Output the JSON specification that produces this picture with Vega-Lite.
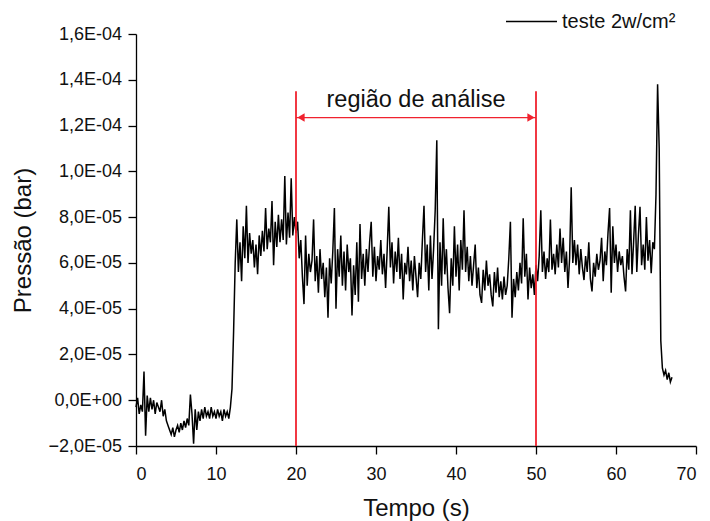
{
  "$schema": "https://vega.github.io/schema/vega-lite/v6.json",
  "width": 560,
  "height": 412,
  "autosize": {"type": "none"},
  "padding": {"left": 136, "top": 34, "right": 14, "bottom": 75},
  "background": "white",
  "config": {
    "view": {"stroke": null},
    "font": "Liberation Sans",
    "axis": {
      "domainColor": "#000000",
      "domainWidth": 1.3,
      "tickColor": "#000000",
      "tickWidth": 1.3,
      "grid": false,
      "labelColor": "#111111",
      "labelFont": "Liberation Sans",
      "labelFontSize": 18,
      "titleFont": "Liberation Sans",
      "titleFontSize": 24,
      "titleFontWeight": "normal",
      "titleColor": "#111111"
    }
  },
  "datasets": {
    "trace": [
      {"t":0,"p":-0.3e-5},{"t":0.2,"p":0.1e-5},{"t":0.4,"p":-0.6e-5},{"t":0.6,"p":-0.2e-5},{"t":0.8,"p":-0.5e-5},
      {"t":1.0,"p":1.25e-5},{"t":1.2,"p":-1.55e-5},{"t":1.4,"p":0.2e-5},{"t":1.6,"p":-0.5e-5},{"t":1.8,"p":0.1e-5},
      {"t":2.0,"p":-0.4e-5},{"t":2.2,"p":0.0},{"t":2.4,"p":-0.6e-5},{"t":2.6,"p":-0.1e-5},{"t":2.8,"p":-0.3e-5},
      {"t":3.0,"p":-0.5e-5},{"t":3.2,"p":0.0},{"t":3.4,"p":-0.7e-5},{"t":3.6,"p":-0.4e-5},{"t":3.8,"p":-0.9e-5},
      {"t":4.0,"p":-1.1e-5},{"t":4.2,"p":-1.3e-5},{"t":4.4,"p":-1.5e-5},{"t":4.6,"p":-1.2e-5},{"t":4.8,"p":-1.6e-5},
      {"t":5.0,"p":-1.3e-5},{"t":5.2,"p":-1.1e-5},{"t":5.4,"p":-1.4e-5},{"t":5.6,"p":-1.0e-5},{"t":5.8,"p":-1.3e-5},
      {"t":6.0,"p":-0.9e-5},{"t":6.2,"p":-1.2e-5},{"t":6.4,"p":-0.8e-5},{"t":6.6,"p":-1.1e-5},{"t":6.8,"p":0.25e-5},
      {"t":7.0,"p":-0.6e-5},{"t":7.2,"p":-1.9e-5},{"t":7.4,"p":-0.4e-5},{"t":7.6,"p":-1.3e-5},{"t":7.8,"p":-0.5e-5},
      {"t":8.0,"p":-0.9e-5},{"t":8.2,"p":-0.4e-5},{"t":8.4,"p":-0.8e-5},{"t":8.6,"p":-0.3e-5},{"t":8.8,"p":-0.7e-5},
      {"t":9.0,"p":-0.5e-5},{"t":9.2,"p":-0.8e-5},{"t":9.4,"p":-0.3e-5},{"t":9.6,"p":-0.7e-5},{"t":9.8,"p":-0.5e-5},
      {"t":10.0,"p":-0.8e-5},{"t":10.2,"p":-0.4e-5},{"t":10.4,"p":-0.7e-5},{"t":10.6,"p":-0.5e-5},{"t":10.8,"p":-0.9e-5},
      {"t":11.0,"p":-0.4e-5},{"t":11.2,"p":-0.7e-5},{"t":11.4,"p":-0.5e-5},{"t":11.6,"p":-0.8e-5},{"t":11.8,"p":-0.3e-5},
      {"t":12.0,"p":0.5e-5},{"t":12.2,"p":3.0e-5},{"t":12.4,"p":6.0e-5},{"t":12.6,"p":7.9e-5},{"t":12.8,"p":5.6e-5},
      {"t":13.0,"p":6.9e-5},{"t":13.2,"p":5.2e-5},{"t":13.4,"p":7.6e-5},{"t":13.6,"p":6.2e-5},{"t":13.8,"p":8.5e-5},
      {"t":14.0,"p":6.0e-5},{"t":14.2,"p":7.3e-5},{"t":14.4,"p":6.4e-5},{"t":14.6,"p":7.0e-5},{"t":14.8,"p":5.8e-5},
      {"t":15.0,"p":6.8e-5},{"t":15.2,"p":5.5e-5},{"t":15.4,"p":7.2e-5},{"t":15.6,"p":6.3e-5},{"t":15.8,"p":7.4e-5},
      {"t":16.0,"p":6.5e-5},{"t":16.2,"p":8.4e-5},{"t":16.4,"p":6.6e-5},{"t":16.6,"p":7.5e-5},{"t":16.8,"p":6.9e-5},
      {"t":17.0,"p":8.7e-5},{"t":17.2,"p":5.9e-5},{"t":17.4,"p":7.8e-5},{"t":17.6,"p":6.7e-5},{"t":17.8,"p":8.1e-5},
      {"t":18.0,"p":6.9e-5},{"t":18.2,"p":7.9e-5},{"t":18.4,"p":7.0e-5},{"t":18.6,"p":9.8e-5},{"t":18.8,"p":6.8e-5},
      {"t":19.0,"p":8.2e-5},{"t":19.2,"p":7.1e-5},{"t":19.4,"p":9.7e-5},{"t":19.6,"p":7.2e-5},{"t":19.8,"p":8.0e-5},
      {"t":20.0,"p":7.3e-5},{"t":20.2,"p":7.8e-5},{"t":20.4,"p":6.2e-5},{"t":20.6,"p":7.0e-5},{"t":20.8,"p":5.4e-5},
      {"t":21.0,"p":4.2e-5},{"t":21.2,"p":7.2e-5},{"t":21.4,"p":5.0e-5},{"t":21.6,"p":6.4e-5},{"t":21.8,"p":5.6e-5},
      {"t":22.0,"p":6.1e-5},{"t":22.2,"p":7.9e-5},{"t":22.4,"p":5.2e-5},{"t":22.6,"p":6.3e-5},{"t":22.8,"p":4.7e-5},
      {"t":23.0,"p":6.6e-5},{"t":23.2,"p":5.3e-5},{"t":23.4,"p":6.0e-5},{"t":23.6,"p":4.5e-5},{"t":23.8,"p":5.8e-5},
      {"t":24.0,"p":3.6e-5},{"t":24.2,"p":6.2e-5},{"t":24.4,"p":5.1e-5},{"t":24.6,"p":6.5e-5},{"t":24.8,"p":8.4e-5},
      {"t":25.0,"p":4.0e-5},{"t":25.2,"p":6.6e-5},{"t":25.4,"p":5.4e-5},{"t":25.6,"p":7.2e-5},{"t":25.8,"p":5.0e-5},
      {"t":26.0,"p":6.5e-5},{"t":26.2,"p":4.8e-5},{"t":26.4,"p":6.8e-5},{"t":26.6,"p":5.6e-5},{"t":26.8,"p":6.2e-5},
      {"t":27.0,"p":3.7e-5},{"t":27.2,"p":5.9e-5},{"t":27.4,"p":4.6e-5},{"t":27.6,"p":6.9e-5},{"t":27.8,"p":4.3e-5},
      {"t":28.0,"p":7.7e-5},{"t":28.2,"p":5.3e-5},{"t":28.4,"p":6.4e-5},{"t":28.6,"p":5.0e-5},{"t":28.8,"p":6.6e-5},
      {"t":29.0,"p":5.6e-5},{"t":29.2,"p":6.9e-5},{"t":29.4,"p":7.8e-5},{"t":29.6,"p":5.4e-5},{"t":29.8,"p":6.7e-5},
      {"t":30.0,"p":5.2e-5},{"t":30.2,"p":6.3e-5},{"t":30.4,"p":5.7e-5},{"t":30.6,"p":7.0e-5},{"t":30.8,"p":5.5e-5},
      {"t":31.0,"p":6.4e-5},{"t":31.2,"p":4.9e-5},{"t":31.4,"p":6.6e-5},{"t":31.6,"p":8.45e-5},{"t":31.8,"p":5.8e-5},
      {"t":32.0,"p":6.9e-5},{"t":32.2,"p":5.1e-5},{"t":32.4,"p":6.5e-5},{"t":32.6,"p":5.6e-5},{"t":32.8,"p":7.1e-5},
      {"t":33.0,"p":5.3e-5},{"t":33.2,"p":6.4e-5},{"t":33.4,"p":4.4e-5},{"t":33.6,"p":6.0e-5},{"t":33.8,"p":5.5e-5},
      {"t":34.0,"p":6.7e-5},{"t":34.2,"p":5.2e-5},{"t":34.4,"p":6.1e-5},{"t":34.6,"p":4.8e-5},{"t":34.8,"p":6.3e-5},
      {"t":35.0,"p":5.4e-5},{"t":35.2,"p":4.5e-5},{"t":35.4,"p":6.0e-5},{"t":35.6,"p":5.3e-5},{"t":35.8,"p":7.0e-5},
      {"t":36.0,"p":8.5e-5},{"t":36.2,"p":5.6e-5},{"t":36.4,"p":6.8e-5},{"t":36.6,"p":4.8e-5},{"t":36.8,"p":7.2e-5},
      {"t":37.0,"p":5.3e-5},{"t":37.2,"p":6.6e-5},{"t":37.4,"p":8.3e-5},{"t":37.6,"p":11.36e-5},{"t":37.8,"p":3.1e-5},
      {"t":38.0,"p":6.9e-5},{"t":38.2,"p":5.0e-5},{"t":38.4,"p":7.95e-5},{"t":38.6,"p":5.5e-5},{"t":38.8,"p":6.6e-5},
      {"t":39.0,"p":4.9e-5},{"t":39.2,"p":3.8e-5},{"t":39.4,"p":6.2e-5},{"t":39.6,"p":5.0e-5},{"t":39.8,"p":7.6e-5},
      {"t":40.0,"p":5.4e-5},{"t":40.2,"p":6.8e-5},{"t":40.4,"p":4.8e-5},{"t":40.6,"p":7.0e-5},{"t":40.8,"p":5.7e-5},
      {"t":41.0,"p":8.3e-5},{"t":41.2,"p":5.6e-5},{"t":41.4,"p":6.7e-5},{"t":41.6,"p":5.2e-5},{"t":41.8,"p":6.3e-5},
      {"t":42.0,"p":5.0e-5},{"t":42.2,"p":5.9e-5},{"t":42.4,"p":6.8e-5},{"t":42.6,"p":4.9e-5},{"t":42.8,"p":5.8e-5},
      {"t":43.0,"p":4.6e-5},{"t":43.2,"p":4.25e-5},{"t":43.4,"p":5.7e-5},{"t":43.6,"p":4.8e-5},{"t":43.8,"p":6.1e-5},
      {"t":44.0,"p":5.0e-5},{"t":44.2,"p":5.5e-5},{"t":44.4,"p":4.6e-5},{"t":44.6,"p":4.1e-5},{"t":44.8,"p":5.6e-5},
      {"t":45.0,"p":4.7e-5},{"t":45.2,"p":5.8e-5},{"t":45.4,"p":4.5e-5},{"t":45.6,"p":5.2e-5},{"t":45.8,"p":4.4e-5},
      {"t":46.0,"p":5.4e-5},{"t":46.2,"p":4.6e-5},{"t":46.4,"p":5.0e-5},{"t":46.6,"p":6.2e-5},{"t":46.8,"p":7.8e-5},
      {"t":47.0,"p":3.6e-5},{"t":47.2,"p":5.3e-5},{"t":47.4,"p":4.5e-5},{"t":47.6,"p":5.6e-5},{"t":47.8,"p":4.8e-5},
      {"t":48.0,"p":6.0e-5},{"t":48.2,"p":5.1e-5},{"t":48.4,"p":7.95e-5},{"t":48.6,"p":5.4e-5},{"t":48.8,"p":6.4e-5},
      {"t":49.0,"p":4.4e-5},{"t":49.2,"p":5.8e-5},{"t":49.4,"p":4.9e-5},{"t":49.6,"p":5.5e-5},{"t":49.8,"p":4.6e-5},
      {"t":50.0,"p":5.9e-5},{"t":50.2,"p":5.2e-5},{"t":50.4,"p":6.3e-5},{"t":50.6,"p":8.3e-5},{"t":50.8,"p":5.6e-5},
      {"t":51.0,"p":6.5e-5},{"t":51.2,"p":5.3e-5},{"t":51.4,"p":6.2e-5},{"t":51.6,"p":5.6e-5},{"t":51.8,"p":7.9e-5},
      {"t":52.0,"p":5.7e-5},{"t":52.2,"p":6.4e-5},{"t":52.4,"p":5.5e-5},{"t":52.6,"p":6.8e-5},{"t":52.8,"p":5.8e-5},
      {"t":53.0,"p":7.5e-5},{"t":53.2,"p":6.0e-5},{"t":53.4,"p":7.1e-5},{"t":53.6,"p":5.6e-5},{"t":53.8,"p":6.5e-5},
      {"t":54.0,"p":4.9e-5},{"t":54.2,"p":6.2e-5},{"t":54.4,"p":9.3e-5},{"t":54.6,"p":6.0e-5},{"t":54.8,"p":7.0e-5},
      {"t":55.0,"p":5.9e-5},{"t":55.2,"p":6.8e-5},{"t":55.4,"p":5.5e-5},{"t":55.6,"p":6.6e-5},{"t":55.8,"p":5.8e-5},
      {"t":56.0,"p":5.25e-5},{"t":56.2,"p":6.3e-5},{"t":56.4,"p":5.6e-5},{"t":56.6,"p":6.9e-5},{"t":56.8,"p":5.3e-5},
      {"t":57.0,"p":4.75e-5},{"t":57.2,"p":6.0e-5},{"t":57.4,"p":5.4e-5},{"t":57.6,"p":6.4e-5},{"t":57.8,"p":5.7e-5},
      {"t":58.0,"p":6.1e-5},{"t":58.2,"p":7.1e-5},{"t":58.4,"p":5.2e-5},{"t":58.6,"p":6.5e-5},{"t":58.8,"p":5.9e-5},
      {"t":59.0,"p":7.3e-5},{"t":59.2,"p":8.4e-5},{"t":59.4,"p":4.7e-5},{"t":59.6,"p":7.6e-5},{"t":59.8,"p":6.0e-5},
      {"t":60.0,"p":6.8e-5},{"t":60.2,"p":5.6e-5},{"t":60.4,"p":6.5e-5},{"t":60.6,"p":5.9e-5},{"t":60.8,"p":6.3e-5},
      {"t":61.0,"p":5.4e-5},{"t":61.2,"p":4.75e-5},{"t":61.4,"p":6.6e-5},{"t":61.6,"p":5.7e-5},{"t":61.8,"p":8.3e-5},
      {"t":62.0,"p":5.5e-5},{"t":62.2,"p":6.9e-5},{"t":62.4,"p":8.5e-5},{"t":62.6,"p":5.6e-5},{"t":62.8,"p":7.2e-5},
      {"t":63.0,"p":8.45e-5},{"t":63.2,"p":5.9e-5},{"t":63.4,"p":6.8e-5},{"t":63.6,"p":5.7e-5},{"t":63.8,"p":8.0e-5},
      {"t":64.0,"p":6.1e-5},{"t":64.2,"p":7.0e-5},{"t":64.4,"p":5.55e-5},{"t":64.6,"p":6.9e-5},{"t":64.8,"p":6.6e-5},
      {"t":65.0,"p":9.0e-5},{"t":65.2,"p":13.8e-5},{"t":65.4,"p":11.0e-5},{"t":65.6,"p":2.6e-5},{"t":65.8,"p":1.4e-5},
      {"t":66.0,"p":1.1e-5},{"t":66.2,"p":1.3e-5},{"t":66.4,"p":0.9e-5},{"t":66.6,"p":1.2e-5},{"t":66.8,"p":0.8e-5},
      {"t":67.0,"p":1.0e-5}
    ],
    "limits": [{"t": 20}, {"t": 50}],
    "span": [{"t1": 20, "t2": 50, "p": 1.235e-4}],
    "label": [{"t": 35, "p": 1.31e-4, "text": "região de análise"}]
  },
  "layer": [
    {
      "data": {"name": "trace"},
      "mark": {"type": "line", "strokeWidth": 1.5, "interpolate": "linear"},
      "encoding": {
        "x": {
          "field": "t", "type": "quantitative",
          "scale": {"domain": [0, 70], "nice": false, "zero": false},
          "axis": {
            "title": "Tempo (s)",
            "values": [0, 5, 10, 15, 20, 25, 30, 35, 40, 45, 50, 55, 60, 65, 70],
            "labelExpr": "datum.value % 10 === 0 ? datum.label : ''",
            "tickSize": {"condition": {"test": "datum.value % 10 !== 0", "value": 5}, "value": 8},
            "labelPadding": 11,
            "titlePadding": 13
          }
        },
        "y": {
          "field": "p", "type": "quantitative",
          "scale": {"domain": [-2e-5, 1.6e-4], "nice": false, "zero": false},
          "axis": {
            "title": "Pressão (bar)",
            "values": [-2e-5, -1e-5, 0, 1e-5, 2e-5, 3e-5, 4e-5, 5e-5, 6e-5, 7e-5, 8e-5, 9e-5, 1e-4, 1.1e-4, 1.2e-4, 1.3e-4, 1.4e-4, 1.5e-4, 1.6e-4],
            "labelExpr": "round(datum.value*1e5) % 2 != 0 ? '' : (round(datum.value*1e5) == 0 ? '0,0E+00' : (abs(round(datum.value*1e5)) < 10 ? format(round(datum.value*1e5), 'd') + ',0E-05' : replace(format(round(datum.value*1e5)/10, '.1f'), '.', ',') + 'E-04'))",
            "tickSize": {"condition": {"test": "round(datum.value*1e5) % 2 != 0", "value": 5}, "value": 8},
            "labelPadding": 6.5,
            "titlePadding": 12
          }
        },
        "color": {
          "datum": "teste 2w/cm²",
          "type": "nominal",
          "scale": {"range": ["#000000"]},
          "legend": {
            "title": null,
            "orient": "none",
            "legendX": 369,
            "legendY": -39,
            "symbolType": "stroke",
            "symbolSize": 2600,
            "symbolStrokeWidth": 1.5,
            "labelFontSize": 20,
            "labelFont": "Liberation Sans",
            "labelColor": "#111111",
            "labelOffset": 4
          }
        }
      }
    },
    {
      "data": {"name": "limits"},
      "mark": {"type": "rule", "color": "#f0222e", "strokeWidth": 1.8},
      "encoding": {
        "x": {"field": "t", "type": "quantitative"},
        "y": {"datum": -2e-5, "type": "quantitative"},
        "y2": {"datum": 1.35e-4}
      }
    },
    {
      "data": {"name": "span"},
      "mark": {"type": "rule", "color": "#f0222e", "strokeWidth": 1.3},
      "encoding": {
        "x": {"field": "t1", "type": "quantitative"},
        "x2": {"field": "t2"},
        "y": {"field": "p", "type": "quantitative"}
      }
    },
    {
      "data": {"name": "span"},
      "mark": {"type": "point", "shape": "triangle-left", "filled": true, "color": "#f0222e", "size": 70, "xOffset": 5, "opacity": 1},
      "encoding": {
        "x": {"field": "t1", "type": "quantitative"},
        "y": {"field": "p", "type": "quantitative"}
      }
    },
    {
      "data": {"name": "span"},
      "mark": {"type": "point", "shape": "triangle-right", "filled": true, "color": "#f0222e", "size": 70, "xOffset": -5, "opacity": 1},
      "encoding": {
        "x": {"field": "t2", "type": "quantitative"},
        "y": {"field": "p", "type": "quantitative"}
      }
    },
    {
      "data": {"name": "label"},
      "mark": {"type": "text", "font": "Liberation Sans", "fontSize": 23.5, "color": "#111111", "align": "center", "baseline": "middle"},
      "encoding": {
        "x": {"field": "t", "type": "quantitative"},
        "y": {"field": "p", "type": "quantitative"},
        "text": {"field": "text"}
      }
    }
  ]
}
